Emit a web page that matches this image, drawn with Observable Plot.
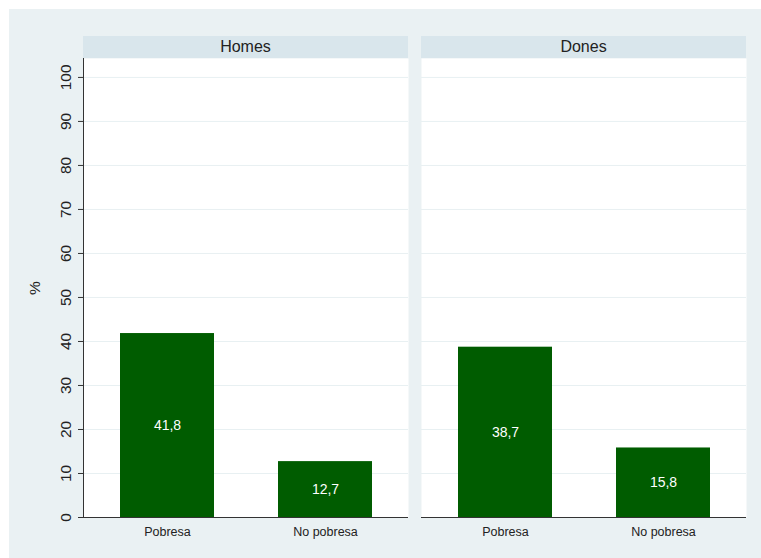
<!DOCTYPE html>
<html>
<head>
<meta charset="utf-8">
<script src="https://cdn.jsdelivr.net/npm/d3@7"></script>
<script src="https://cdn.jsdelivr.net/npm/@observablehq/plot@0.6"></script>
<style>
  html, body { margin: 0; padding: 0; background: white; }
  #wrap { position: relative; width: 761px; height: 558px; overflow: hidden; }
  #bg { position: absolute; left: 9px; top: 9px; right: 0; bottom: 0; background: #eaf1f3; }
  .hdr { position: absolute; top: 36px; height: 22px; background: #d9e6ec; color: #222;
         font: 16px "Liberation Sans", Arial, sans-serif; text-align: center; line-height: 22px; }
  #chart { position: absolute; left: 0; top: 0; }
</style>
</head>
<body>
<div id="wrap"><div id="bg"></div><div id="chart"></div></div>
<script>
const panels = ["Homes", "Dones"];
const categories = ["Pobresa", "No pobresa"];
const homesValues = [41.8, 12.7];
const donesValues = [38.7, 15.8];
const yTicks = [0, 10, 20, 30, 40, 50, 60, 70, 80, 90, 100];

const seriesByPanel = {Homes: homesValues, Dones: donesValues};
const data = panels.flatMap(p => categories.map((c, j) => ({
  panel: p, cat: c, value: seriesByPanel[p][j],
  label: seriesByPanel[p][j].toFixed(1).replace(".", ",")
})));

const plot = Plot.plot({
  width: 761, height: 558,
  marginLeft: 83, marginRight: 15, marginTop: 58, marginBottom: 41,
  style: {background: "transparent", fontFamily: "'Liberation Sans', Arial, sans-serif", color: "#222"},
  fx: {domain: panels, paddingInner: 0.0385, paddingOuter: 0, axis: null, label: null},
  x: {domain: categories, paddingInner: 0.408, paddingOuter: 0.23, label: null},
  y: {domain: [0, 104.3]},
  marks: [
    Plot.frame({fill: "white", stroke: null}),
    Plot.gridY({ticks: yTicks, stroke: "#e8f0f2", strokeOpacity: 1}),
    Plot.barY(data, {fx: "panel", x: "cat", y: "value", fill: "#005c00"}),
    Plot.text(data, {fx: "panel", x: "cat", y: d => d.value / 2, text: "label", fill: "white", fontSize: 14}),
    Plot.ruleY([0], {stroke: "#333"}),
    Plot.frame({anchor: "left", stroke: "#333", fx: ["Homes"]}),
    Plot.axisY({ticks: yTicks, anchor: "left", tickSize: 5, text: null, label: null, stroke: "#333"}),
    Plot.axisY({ticks: yTicks, anchor: "left", tickSize: 0, tickRotate: -90, tickPadding: 10, dx: -3, fontSize: 15.5,
      label: "%", labelAnchor: "center", labelOffset: 55, labelArrow: "none"}),
    Plot.axisX({tickSize: 0, tickPadding: 10, fontSize: 12.5, label: null})
  ]
});
document.getElementById("chart").appendChild(plot);

const fxs = plot.scale("fx");
const wrap = document.getElementById("wrap");
for (const p of panels) {
  const d = document.createElement("div");
  d.className = "hdr";
  d.style.left = fxs.apply(p) + "px";
  d.style.width = fxs.bandwidth + "px";
  d.textContent = p;
  wrap.insertBefore(d, document.getElementById("chart"));
}
</script>
</body>
</html>
